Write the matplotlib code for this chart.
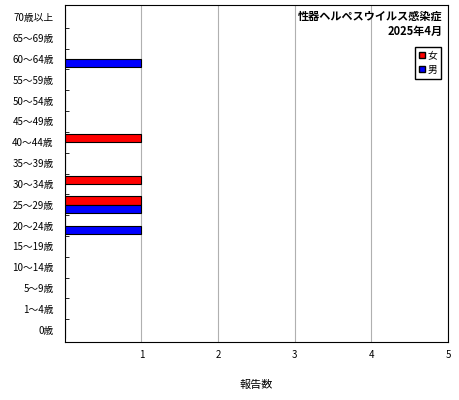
import numpy as np
import matplotlib.pyplot as plt
from matplotlib.patches import Patch

plt.rcParams['font.family'] = ['Noto Sans CJK JP', 'DejaVu Sans']

# Age groups, bottom to top
ages = ['0歳', '1～4歳', '5～9歳', '10～14歳', '15～19歳', '20～24歳', '25～29歳',
        '30～34歳', '35～39歳', '40～44歳', '45～49歳', '50～54歳', '55～59歳',
        '60～64歳', '65～69歳', '70歳以上']
female = [0, 0, 0, 0, 0, 0, 1, 1, 0, 1, 0, 0, 0, 0, 0, 0]
male = [0, 0, 0, 0, 0, 1, 1, 0, 0, 0, 0, 0, 0, 1, 0, 0]

fig = plt.figure(figsize=(4.6, 4.0), dpi=100)
ax = fig.add_axes([0.141, 0.145, 0.833, 0.8425])

y = np.arange(len(ages))
h = 0.4
ax.barh(y + h / 2, female, height=h, color='#ff0000', edgecolor='black', linewidth=0.8, label='女')
ax.barh(y - h / 2, male, height=h, color='#0000ff', edgecolor='black', linewidth=0.8, label='男')

ax.set_xlim(0, 5)
ax.set_ylim(-0.6, len(ages) - 0.4)
ax.set_xticks([1, 2, 3, 4, 5])
ax.set_xticklabels(['1', '2', '3', '4', '5'], fontsize=7)
ax.tick_params(axis='x', length=0, pad=6)
ax.xaxis.grid(True, color='#b0b0b0', linewidth=0.8)
ax.set_axisbelow(True)

ax.set_yticks(y)
ax.set_yticklabels(ages, fontsize=7)
ax.tick_params(axis='y', which='major', length=0, pad=8)
ax.set_yticks(y[:-1] + 0.5, minor=True)
ax.tick_params(axis='y', which='minor', length=3, direction='in')

ax.set_xlabel('報告数', fontsize=8, labelpad=14)

ax.text(0.985, 0.985, '性器ヘルペスウイルス感染症\n2025年4月', transform=ax.transAxes,
        ha='right', va='top', fontsize=8, fontweight='bold', linespacing=1.2)

handles = [Patch(facecolor='#ff0000', edgecolor='black', label='女'),
           Patch(facecolor='#0000ff', edgecolor='black', label='男')]
ax.legend(handles=handles, loc='upper right', bbox_to_anchor=(0.995, 0.89), fontsize=7,
          handlelength=0.6, handleheight=0.6, handletextpad=0.3, borderpad=0.4,
          fancybox=False, edgecolor='black', framealpha=1, labelspacing=0.4)

fig.savefig('out.png')
